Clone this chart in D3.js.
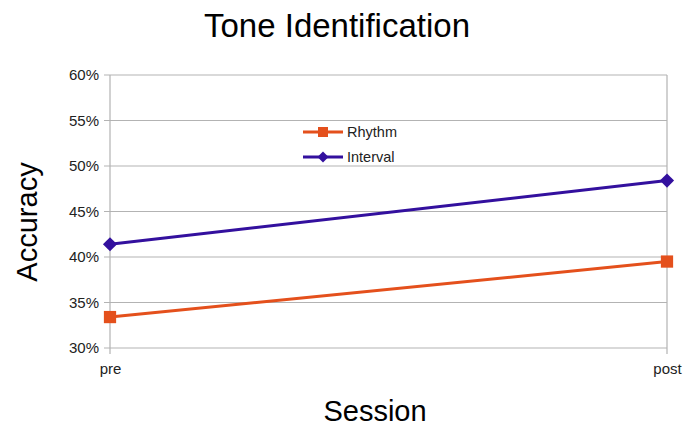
<!DOCTYPE html>
<html>
<head>
<meta charset="utf-8">
<script src="https://cdn.jsdelivr.net/npm/d3@7"></script>
<style>
  html, body { margin: 0; padding: 0; background: #fff; }
  svg { display: block; font-family: "Liberation Sans", Arial, sans-serif; }
</style>
</head>
<body>
<svg id="chart" width="683" height="428"></svg>
<script>
// Session categories and accuracy per series
const sessions = ["pre", "post"];
const rhythm = [0.334, 0.395];
const interval = [0.414, 0.484];
const yTicks = [0.30, 0.35, 0.40, 0.45, 0.50, 0.55, 0.60];

const seriesList = [
  { name: "Rhythm", values: rhythm, color: "#e4501c", marker: "square" },
  { name: "Interval", values: interval, color: "#33109e", marker: "diamond" }
];

const svg = d3.select("#chart");
const plot = { left: 110, right: 667, top: 75, bottom: 348 };

const x = d3.scalePoint().domain(sessions).range([plot.left, plot.right]);
const y = d3.scaleLinear().domain([0.30, 0.60]).range([plot.bottom, plot.top]);

// Horizontal gridlines
svg.append("g").selectAll("line").data(yTicks).join("line")
  .attr("x1", plot.left - 6).attr("x2", plot.right)
  .attr("y1", d => y(d)).attr("y2", d => y(d))
  .attr("stroke", "#b3b3b3").attr("stroke-width", 1.2);

// Vertical lines at the category positions
svg.append("g").selectAll("line").data(sessions).join("line")
  .attr("x1", d => x(d)).attr("x2", d => x(d))
  .attr("y1", plot.top).attr("y2", plot.bottom + 6)
  .attr("stroke", "#b3b3b3").attr("stroke-width", 1.2);

// Y axis labels
const yAxis = d3.axisLeft(y).tickValues(yTicks).tickFormat(d3.format(".0%")).tickSize(0).tickPadding(11);
const gy = svg.append("g").attr("transform", `translate(${plot.left},0)`).call(yAxis);
gy.select(".domain").remove();
gy.selectAll("text").attr("font-size", 15).attr("fill", "#222").attr("font-family", "'Liberation Sans', Arial, sans-serif");

// X axis labels
const xAxis = d3.axisBottom(x).tickSize(0).tickPadding(15);
const gx = svg.append("g").attr("transform", `translate(0,${plot.bottom})`).call(xAxis);
gx.select(".domain").remove();
gx.selectAll("text").attr("font-size", 15).attr("fill", "#222").attr("font-family", "'Liberation Sans', Arial, sans-serif");

// Lines and markers
const line = d3.line().x((d, i) => x(sessions[i])).y(d => y(d));
const squareSym = d3.symbol().type(d3.symbolSquare).size(150);
const diamondSym = d3.symbol().type(d3.symbolSquare).size(100);

seriesList.forEach(s => {
  svg.append("path").datum(s.values)
    .attr("d", line).attr("fill", "none")
    .attr("stroke", s.color).attr("stroke-width", 3);
  svg.append("g").selectAll("path").data(s.values).join("path")
    .attr("transform", (d, i) => `translate(${x(sessions[i])},${y(d)})` + (s.marker === "diamond" ? " rotate(45)" : ""))
    .attr("d", s.marker === "square" ? squareSym : diamondSym)
    .attr("fill", s.color);
});

// Legend
const legend = svg.append("g").attr("transform", "translate(303,132)");
seriesList.forEach((s, i) => {
  const g = legend.append("g").attr("transform", `translate(0,${i * 25})`);
  g.append("line").attr("x1", 0).attr("x2", 40).attr("y1", 0).attr("y2", 0)
    .attr("stroke", s.color).attr("stroke-width", 3);
  g.append("path").attr("transform", "translate(20,0)" + (s.marker === "diamond" ? " rotate(45)" : ""))
    .attr("d", d3.symbol().type(d3.symbolSquare).size(s.marker === "square" ? 100 : 60)())
    .attr("fill", s.color);
  g.append("text").attr("x", 44).attr("y", 0).attr("dy", "0.36em")
    .attr("font-size", 14.5).attr("fill", "#222").text(s.name);
});

// Titles
svg.append("text").attr("x", 337).attr("y", 37).attr("text-anchor", "middle")
  .attr("font-size", 33).attr("fill", "#000").text("Tone Identification");
svg.append("text").attr("x", 375).attr("y", 421).attr("text-anchor", "middle")
  .attr("font-size", 29).attr("fill", "#000").text("Session");
svg.append("text").attr("transform", "translate(37,222) rotate(-90)").attr("text-anchor", "middle")
  .attr("font-size", 29).attr("fill", "#000").text("Accuracy");
</script>
</body>
</html>
